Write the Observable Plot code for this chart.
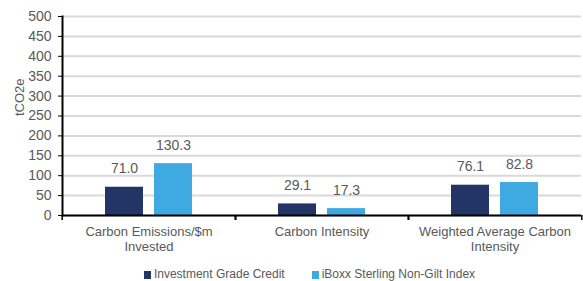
<!DOCTYPE html>
<html>
<head>
<meta charset="utf-8">
<script src="https://cdn.jsdelivr.net/npm/d3@7"></script>
<script src="https://cdn.jsdelivr.net/npm/@observablehq/plot@0.6"></script>
<style>
  body { margin: 0; background: #fff; font-family: "Liberation Sans", Arial, sans-serif; }
  #legend { display: flex; justify-content: center; padding-left: 36px; margin-top: 4px; font-size: 12px; color: #595959; line-height: 15px; }
  .item { display: flex; align-items: center; }
  .sw { width: 7px; height: 8px; margin-right: 3px; }
</style>
</head>
<body>
<div id="chart"></div>
<div id="legend"></div>
<script>
const categories = ["Carbon Emissions/$m Invested", "Carbon Intensity", "Weighted Average Carbon Intensity"];
const categoryLabels = ["Carbon Emissions/$m\nInvested", "Carbon Intensity", "Weighted Average Carbon\nIntensity"];
const series = ["Investment Grade Credit", "iBoxx Sterling Non-Gilt Index"];
const investmentGrade = [71.0, 29.1, 76.1];
const iboxx = [130.3, 17.3, 82.8];
const colors = ["#223564", "#3FAAE1"];
const yTicks = [0, 50, 100, 150, 200, 250, 300, 350, 400, 450, 500];
const yTitle = "tCO2e";

const data = [];
categories.forEach((c, i) => {
  data.push({category: c, series: series[0], value: investmentGrade[i]});
  data.push({category: c, series: series[1], value: iboxx[i]});
});

const W = 583, H = 263, mL = 61, mR = 1;
const half = (W - mL - mR) / categories.length / 2;
const labelMap = new Map(categories.map((c, i) => [c, categoryLabels[i]]));

const chart = Plot.plot({
  width: W,
  height: H,
  marginLeft: mL,
  marginRight: mR,
  marginTop: 16,
  marginBottom: 48,
  style: {fontFamily: "Liberation Sans, Arial, sans-serif", color: "#595959", background: "#fff"},
  fx: {domain: categories, padding: 0, axis: null},
  x: {domain: series, paddingInner: 0.22, paddingOuter: 0.845, axis: null},
  y: {domain: [0, 500], axis: null},
  color: {domain: series, range: colors},
  marks: [
    Plot.gridY(yTicks, {stroke: "#d9d9d9", strokeWidth: 2, strokeOpacity: 1}),
    Plot.barY(data, {fx: "category", x: "series", y: "value", fill: "series"}),
    Plot.text(data, {fx: "category", x: "series", y: "value", text: d => d.value.toFixed(1), dy: -18.5, fontSize: 14, fill: "#595959"}),
    Plot.ruleY([0], {stroke: "black", strokeWidth: 2}),
    Plot.frame({anchor: "left", facetAnchor: "left", stroke: "black", strokeWidth: 2}),
    Plot.axisY(yTicks, {anchor: "left", tickSize: 4, tickPadding: 7, fontSize: 14, stroke: "black", fill: "#595959", label: null}),
    Plot.text([yTitle], {frameAnchor: "left", facetAnchor: "left", rotate: -90, dx: -43, fontSize: 13, fill: "#595959"}),
    Plot.axisFx({anchor: "bottom", tickSize: 0, tickPadding: 10, fontSize: 13, lineHeight: 1.15, label: null, tickFormat: d => labelMap.get(d), fill: "#595959"}),
    Plot.axisFx({anchor: "bottom", tickSize: 5, text: null, label: null, dx: half, stroke: "black", strokeWidth: 1.5}),
    Plot.axisFx({anchor: "bottom", tickSize: 5, text: null, label: null, dx: -half, stroke: "black", strokeWidth: 1.5})
  ]
});
document.getElementById("chart").appendChild(chart);

const legend = document.getElementById("legend");
series.forEach((s, i) => {
  const item = document.createElement("div");
  item.className = "item";
  if (i > 0) item.style.marginLeft = "27px";
  const sw = document.createElement("span");
  sw.className = "sw";
  sw.style.background = colors[i];
  const t = document.createElement("span");
  t.textContent = s;
  item.appendChild(sw);
  item.appendChild(t);
  legend.appendChild(item);
});
</script>
</body>
</html>
